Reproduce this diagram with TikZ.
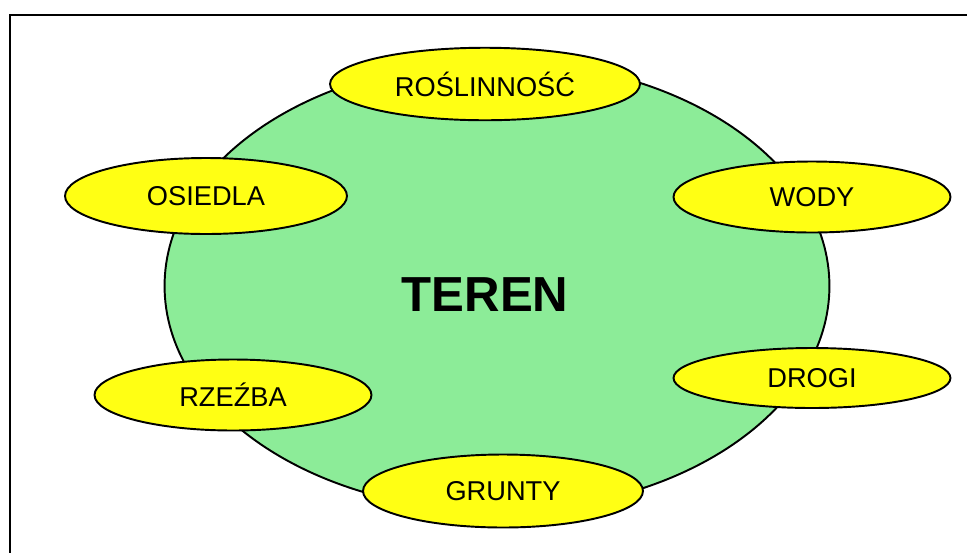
\documentclass[tikz,border=0pt]{standalone}
\usepackage{fontspec}
\setmainfont{Liberation Sans}
\usetikzlibrary{shapes.geometric}
\definecolor{terengreen}{RGB}{140,236,152}
\definecolor{labelyellow}{RGB}{255,255,20}
\tikzset{
  px/.style={x=0.02cm,y=-0.02cm},
  bigoval/.style={ellipse, draw=black, line width=1.1pt, fill=terengreen, inner sep=0pt},
  smalloval/.style={ellipse, draw=black, line width=1.1pt, fill=labelyellow, inner sep=0pt,
     font=\fontsize{15.5}{18}\selectfont},
  frameline/.style={line width=1.7pt, black}
}
\begin{document}
\begin{tikzpicture}[px]
\useasboundingbox (0,0) rectangle (967,552);
\fill[white] (0,0) rectangle (967,552);
\coordinate (fbl) at (10,560);
\coordinate (ftl) at (10,15);
\coordinate (ftr) at (975,15);
\draw[frameline] (fbl) -- (ftl) -- (ftr);
\node[bigoval, minimum width=13.3cm, minimum height=9.0cm] (teren) at (497,286) {};
\node[font=\fontsize{28}{32}\selectfont\bfseries] (terenlabel) at (485,295) {TEREN};
\node[smalloval, minimum width=6.2cm, minimum height=1.45cm] (rosl) at (485,84) {ROŚLINNOŚĆ};
\node[smalloval, minimum width=5.64cm, minimum height=1.52cm] (osiedla) at (206,196) {OSIEDLA};
\node[smalloval, minimum width=5.54cm, minimum height=1.42cm] (wody) at (812,197) {WODY};
\node[smalloval, minimum width=5.54cm, minimum height=1.2cm] (drogi) at (812,378) {DROGI};
\node[smalloval, minimum width=5.54cm, minimum height=1.42cm] (rzezba) at (233,395) {RZEŹBA};
\node[smalloval, minimum width=5.6cm, minimum height=1.46cm] (grunty) at (503,491) {GRUNTY};
\end{tikzpicture}
\end{document}
